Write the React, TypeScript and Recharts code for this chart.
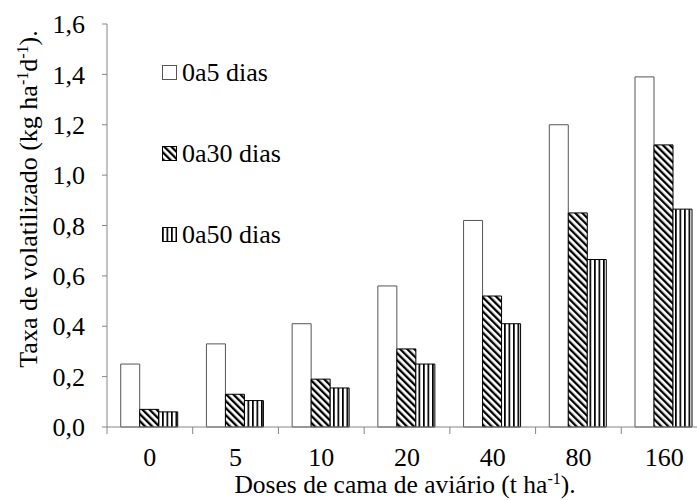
import React from 'react';
import { BarChart, Bar, XAxis, YAxis } from 'recharts';

const doses = ['0', '5', '10', '20', '40', '80', '160'];
const dias5 = [0.25, 0.33, 0.41, 0.56, 0.82, 1.2, 1.39];
const dias30 = [0.07, 0.13, 0.19, 0.31, 0.52, 0.85, 1.12];
const dias50 = [0.06, 0.105, 0.155, 0.25, 0.41, 0.665, 0.865];
const yTicks = [0, 0.2, 0.4, 0.6, 0.8, 1.0, 1.2, 1.4, 1.6];
const legendLabels = ['0a5 dias', '0a30 dias', '0a50 dias'];

const data = doses.map((dose, i) => ({ dose, d5: dias5[i], d30: dias30[i], d50: dias50[i] }));

const W = 720;
const H = 500;
const M = { top: 24, right: 13, bottom: 0, left: 40 };
const Y_W = 67;
const X_H = 73;
const AXIS = '#868686';
const FONT = 'Liberation Serif, Tinos, Times New Roman, serif';
const FS = 26;
const SUP = 16;

const plotLeft = M.left + Y_W;
const plotRight = W - M.right;
const plotBottom = H - M.bottom - X_H;
const band = (plotRight - plotLeft) / doses.length;

const Patterns = ({ prefix }: { prefix: string }) => (
  <defs>
    <pattern id={`${prefix}-diag`} patternUnits="userSpaceOnUse" width={5} height={5} patternTransform="rotate(-45)">
      <rect width={5} height={5} fill="#fff" />
      <rect width={2.3} height={5} fill="#000" />
    </pattern>
    <pattern id={`${prefix}-vert`} patternUnits="userSpaceOnUse" width={4.5} height={4.5}>
      <rect width={4.5} height={4.5} fill="#fff" />
      <rect width={1.7} height={4.5} fill="#000" />
    </pattern>
  </defs>
);

const swatches = [
  { fill: '#fff', stroke: '#555' },
  { fill: 'url(#lg-diag)', stroke: '#000' },
  { fill: 'url(#lg-vert)', stroke: '#000' },
];

// legend drawn as an overlay, rows ~81px apart
const ChartLegend = () => (
  <svg width={697} height={500} style={{ position: 'absolute', left: 0, top: 0, pointerEvents: 'none' }}>
    <Patterns prefix="lg" />
    {legendLabels.map((label, i) => (
      <g key={label} transform={`translate(162, ${65 + i * 81})`}>
        <rect x={0.5} y={0.5} width={14} height={14} fill={swatches[i].fill} stroke={swatches[i].stroke} />
        <text x={20} y={15.5} fontFamily={FONT} fontSize={FS} fill="#000">{label}</text>
      </g>
    ))}
  </svg>
);

const XTick = (props: any) => {
  const { x, payload, index } = props;
  const left = x - band / 2;
  return (
    <g>
      <line x1={left} y1={plotBottom} x2={left} y2={plotBottom + 7} stroke={AXIS} />
      {index === doses.length - 1 && (
        <line x1={left + band} y1={plotBottom} x2={left + band} y2={plotBottom + 7} stroke={AXIS} />
      )}
      <text x={x} y={plotBottom + 39} textAnchor="middle" fontFamily={FONT} fontSize={FS} fill="#000">
        {payload.value}
      </text>
    </g>
  );
};

export default function App() {
  return (
    <div style={{ position: 'absolute', left: 0, top: 0, width: 697, height: H, overflow: 'hidden', background: '#fff' }}>
      <BarChart width={W} height={H} data={data} margin={M} barCategoryGap="16%" barGap={0}>
        <Patterns prefix="pt" />
        <XAxis
          dataKey="dose"
          height={X_H}
          tickLine={false}
          axisLine={{ stroke: AXIS }}
          tick={<XTick />}
          interval={0}
          label={{
            content: () => (
              <text x={405} y={493} textAnchor="middle" fontFamily={FONT} fontSize={25.5} fill="#000">
                Doses de cama de aviário (t ha<tspan dy={-9} fontSize={SUP}>-1</tspan>
                <tspan dy={9}>).</tspan>
              </text>
            ),
          }}
        />
        <YAxis
          width={Y_W}
          domain={[0, 1.6]}
          ticks={yTicks}
          interval={0}
          tickSize={5}
          tickMargin={17}
          axisLine={{ stroke: AXIS }}
          tickLine={{ stroke: AXIS }}
          tick={{ fontFamily: FONT, fontSize: FS, fill: '#000' }}
          tickFormatter={(v: number) => v.toFixed(1).replace('.', ',')}
          label={{
            content: () => (
              <text
                transform="translate(37,199) rotate(-90)"
                textAnchor="middle"
                fontFamily={FONT}
                fontSize={FS}
                fill="#000"
              >
                Taxa de volatilizado (kg ha<tspan dy={-9} fontSize={SUP}>-1</tspan>
                <tspan dy={9}>d</tspan>
                <tspan dy={-9} fontSize={SUP}>-1</tspan>
                <tspan dy={9}>).</tspan>
              </text>
            ),
          }}
        />
        <Bar dataKey="d5" fill="#fff" stroke="#555" strokeWidth={1} isAnimationActive={false} />
        <Bar dataKey="d30" fill="url(#pt-diag)" stroke="#000" strokeWidth={1} isAnimationActive={false} />
        <Bar dataKey="d50" fill="url(#pt-vert)" stroke="#000" strokeWidth={1} isAnimationActive={false} />
      </BarChart>
      <ChartLegend />
    </div>
  );
}
